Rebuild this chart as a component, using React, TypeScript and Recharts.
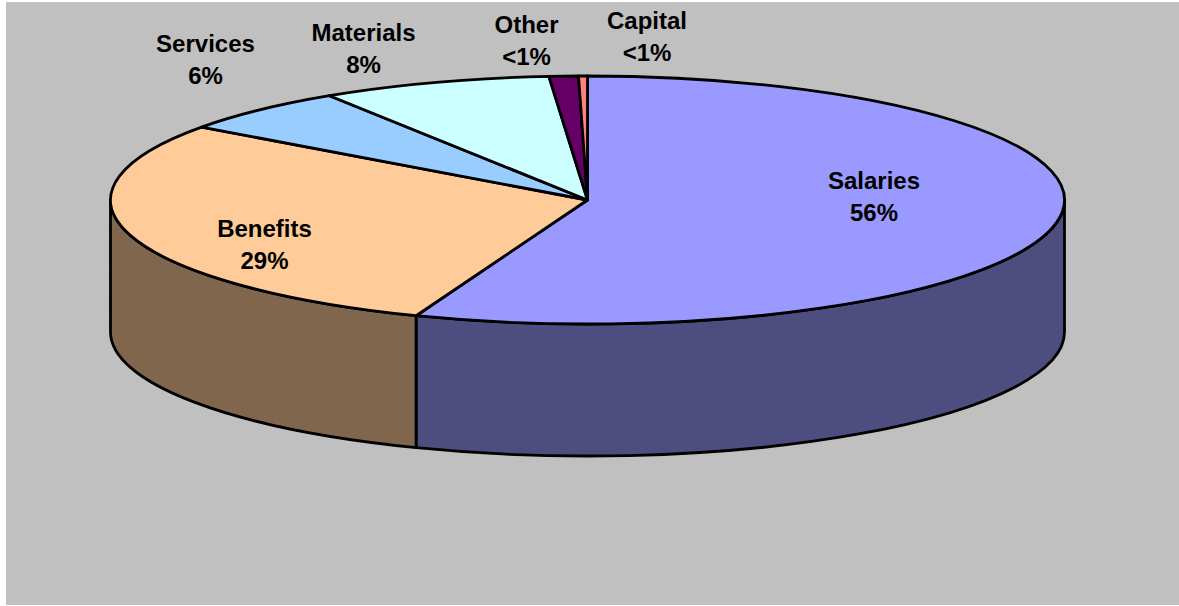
import { Pie, PieChart } from "recharts";

const categories = ["Salaries", "Benefits", "Services", "Materials", "Other", "Capital"];
const shares = [55.85, 29.15, 5.9, 7.81, 0.99, 0.3];
const shareLabels = ["56%", "29%", "6%", "8%", "<1%", "<1%"];
const topColors = ["#9999FF", "#FFCC99", "#99CCFF", "#CCFFFF", "#660066", "#FF8080"];
const wallColors = ["#4D4D80", "#80664D", "#4D6680", "#668080", "#330033", "#804040"];

const pieData = categories.map((name, i) => ({
	name,
	value: shares[i],
	label: shareLabels[i],
}));

// label centres, [x, first line y]
const labelSpots = [
	[874, 189],
	[264.5, 237],
	[205.5, 52],
	[363.5, 40.5],
	[526.5, 33],
	[647, 29],
];

const CX = 587.5;
const CY = 200;
const RX = 477;
const RY = 124;
const DEPTH = 132;
const LINE = 2.8;

const px = (deg: number) => CX + RX * Math.cos((deg * Math.PI) / 180);
const py = (deg: number, drop = 0) => CY + drop - RY * Math.sin((deg * Math.PI) / 180);

// top face of a slice, squashed into the ellipse
const TopSlice = (props: any) => {
	const { startAngle, endAngle, index } = props;
	const large = Math.abs(endAngle - startAngle) > 180 ? 1 : 0;
	const d = `M${CX},${CY} L${px(startAngle)},${py(startAngle)} A${RX},${RY} 0 ${large} 1 ${px(endAngle)},${py(endAngle)} Z`;
	return <path d={d} fill={topColors[index]} stroke="#000" strokeWidth={LINE} strokeLinejoin="round" />;
};

// side wall, only the part facing the viewer (angles 0 to -180)
const WallSlice = (props: any) => {
	const { startAngle, endAngle, index } = props;
	const from = Math.min(startAngle, 0);
	const to = Math.max(endAngle, -180);
	if (from <= to) return <g />;
	const d = [
		`M${px(from)},${py(from)}`,
		`A${RX},${RY} 0 0 1 ${px(to)},${py(to)}`,
		`L${px(to)},${py(to, DEPTH)}`,
		`A${RX},${RY} 0 0 0 ${px(from)},${py(from, DEPTH)}`,
		"Z",
	].join(" ");
	return <path d={d} fill={wallColors[index]} stroke="#000" strokeWidth={LINE} strokeLinejoin="round" />;
};

const SliceLabel = (props: any) => {
	const { index, name, payload } = props;
	const [x, y] = labelSpots[index];
	return (
		<text
			x={x}
			y={y}
			textAnchor="middle"
			fontFamily="'Liberation Sans', Arial, sans-serif"
			fontWeight="bold"
			fontSize={24}
			fill="#000"
		>
			<tspan x={x}>{name}</tspan>
			<tspan x={x} dy={32}>
				{payload?.label ?? shareLabels[index]}
			</tspan>
		</text>
	);
};

const App = () => {
	return (
		<div style={{ position: "absolute", left: 0, top: 0, width: 1179, height: 606, overflow: "hidden", background: "#fff" }}>
			<div style={{ position: "absolute", left: 6, top: 2, width: 1173, height: 603, background: "#C0C0C0" }} />
			<div style={{ position: "absolute", left: 0, top: 0 }}>
				<PieChart width={1179} height={606} margin={{ top: 0, right: 0, bottom: 0, left: 0 }}>
					<Pie
						data={pieData}
						dataKey="value"
						nameKey="name"
						cx={CX}
						cy={CY}
						outerRadius={RX}
						startAngle={90}
						endAngle={-270}
						shape={WallSlice}
						isAnimationActive={false}
					/>
					<Pie
						data={pieData}
						dataKey="value"
						nameKey="name"
						cx={CX}
						cy={CY}
						outerRadius={RX}
						startAngle={90}
						endAngle={-270}
						shape={TopSlice}
						label={SliceLabel}
						labelLine={false}
						isAnimationActive={false}
					/>
				</PieChart>
			</div>
		</div>
	);
};

export default App;
